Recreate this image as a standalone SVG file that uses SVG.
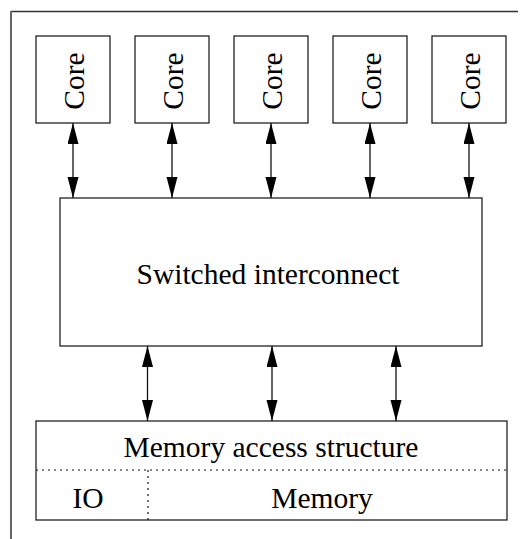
<svg xmlns="http://www.w3.org/2000/svg" width="522" height="539" viewBox="0 0 522 539">
<defs>
<style>
.box{fill:#fff;stroke:#222;stroke-width:1.3}
.t{font-family:"Liberation Serif","Times New Roman",serif;font-size:29.5px;fill:#000;text-anchor:middle}
.c{stroke:#111;stroke-width:1.3;fill:none;marker-start:url(#ah);marker-end:url(#ah)}
.dot{stroke:#111;stroke-width:1.2;stroke-dasharray:2 4;fill:none}
</style>
<marker id="ah" markerUnits="userSpaceOnUse" markerWidth="22" markerHeight="12" refX="21" refY="5.5" orient="auto-start-reverse">
<path d="M0,0 L21,5.5 L0,11 z" fill="#000"/>
</marker>
</defs>
<rect width="522" height="539" fill="#fff"/>
<g id="frame">
<line x1="11" y1="11.5" x2="518" y2="11.5" stroke="#333" stroke-width="1.3"/>
<line x1="11" y1="11" x2="11" y2="539" stroke="#666" stroke-width="2"/>
</g>
<g id="core1"><rect class="box" x="36" y="36" width="74" height="87"/><text class="t" transform="translate(84,81) rotate(-90)">Core</text></g>
<g id="core2"><rect class="box" x="135" y="36" width="74" height="87"/><text class="t" transform="translate(183,81) rotate(-90)">Core</text></g>
<g id="core3"><rect class="box" x="234" y="36" width="74" height="87"/><text class="t" transform="translate(282,81) rotate(-90)">Core</text></g>
<g id="core4"><rect class="box" x="333" y="36" width="74" height="87"/><text class="t" transform="translate(381,81) rotate(-90)">Core</text></g>
<g id="core5"><rect class="box" x="432" y="36" width="74" height="87"/><text class="t" transform="translate(480,81) rotate(-90)">Core</text></g>
<g id="interconnect"><rect class="box" x="60" y="198" width="422" height="148"/><text class="t" x="268" y="284">Switched interconnect</text></g>
<g id="memory">
<rect class="box" x="36" y="421" width="471" height="99"/>
<line class="dot" x1="36" y1="470" x2="507" y2="470"/>
<line class="dot" x1="148" y1="470" x2="148" y2="520"/>
<text class="t" x="271" y="457">Memory access structure</text>
<text class="t" x="88" y="508">IO</text>
<text class="t" x="322" y="508">Memory</text>
</g>
<g id="connectors">
<line class="c" x1="73" y1="123" x2="73" y2="198"/>
<line class="c" x1="172" y1="123" x2="172" y2="198"/>
<line class="c" x1="271" y1="123" x2="271" y2="198"/>
<line class="c" x1="370" y1="123" x2="370" y2="198"/>
<line class="c" x1="469" y1="123" x2="469" y2="198"/>
<line class="c" x1="147.5" y1="346" x2="147.5" y2="421"/>
<line class="c" x1="272" y1="346" x2="272" y2="421"/>
<line class="c" x1="396" y1="346" x2="396" y2="421"/>
</g>
</svg>
